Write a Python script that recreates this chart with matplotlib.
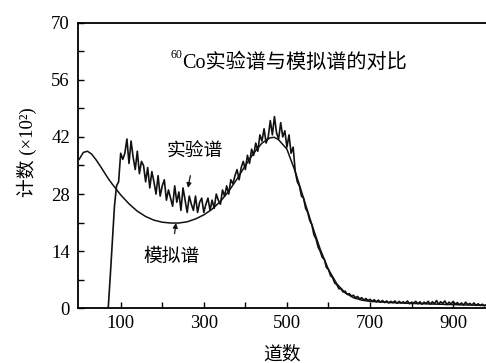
import numpy as np
import matplotlib
matplotlib.use("Agg")
import matplotlib.pyplot as plt
from matplotlib.ticker import MultipleLocator, FixedLocator

plt.rcParams['font.family'] = ['Liberation Serif', 'Noto Sans CJK SC']

# ---------------------------------------------------------------------------
# Data (counts in units of 10^2)
# ---------------------------------------------------------------------------
# experimental spectrum, every 5 channels from 70 to 980
exp_channels = np.arange(70, 985, 5)
exp_counts = [
    0, 8, 16.5, 25, 30, 31, 38, 36.5, 38, 41.5,
    35.5, 41, 37, 34, 38.5, 33, 36, 35, 31, 34.5,
    29.5, 33.5, 31, 28, 32.5, 27.5, 30, 31.5, 26.5, 29,
    27, 25, 30, 26, 28.5, 24, 29.5, 26.5, 23.5, 27.5,
    25.5, 24, 27.5, 23.5, 26, 27, 23.5, 25.5, 27, 24,
    26.5, 24.5, 28, 26.5, 25.5, 29, 27.5, 30, 28, 31.5,
    30.5, 32.5, 34, 31.5, 34.5, 36, 34, 37.5, 35.5, 39,
    37.5, 40.5, 38.5, 42.5, 41, 44, 40.5, 42, 46, 42.5,
    47, 43, 41.5, 45.5, 42, 43.5, 39.5, 42.5, 38, 39.5,
    33.5, 31, 30, 27.5, 27, 24.5, 23.5, 21.5, 20.5, 18,
    17, 15, 14, 12.5, 12, 10, 9.5, 8, 7.5, 6.2,
    5.8, 4.8, 4.8, 4.0, 4.2, 3.4, 3.6, 3.0, 3.2, 2.6,
    2.9, 2.3, 2.6, 2.0, 2.4, 1.9, 2.2, 1.7, 2.1, 1.6,
    2.0, 1.5, 1.9, 1.4, 1.8, 1.3, 1.7, 1.4, 1.8, 1.2,
    1.7, 1.3, 1.6, 1.2, 1.8, 1.1, 1.5, 1.3, 1.7, 1.1,
    1.6, 1.0, 1.5, 1.2, 1.7, 1.0, 1.6, 1.1, 1.9, 1.0,
    1.6, 1.2, 1.8, 0.9, 1.5, 1.1, 1.7, 1.0, 1.4, 0.9,
    1.3, 0.8, 1.5, 0.9, 1.2, 0.8, 1.3, 0.7, 1.1, 0.7,
    1.0, 0.6, 0.9,
]

# simulated spectrum (smooth)
sim_channels = [0, 10, 20, 30, 40, 50, 60, 70, 80, 90, 100, 120, 140, 160,
                180, 200, 220, 240, 260, 280, 300, 320, 340, 360, 380, 400,
                420, 440, 460, 470, 480, 500, 520, 540, 560, 580, 600, 620,
                640, 660, 680, 700, 750, 800, 900, 980]
sim_counts = [36.5, 38.2, 38.5, 37.8, 36.5, 35, 33.4, 31.8, 30.4, 29.1, 27.8,
              25.6, 23.8, 22.5, 21.6, 21.1, 20.9, 20.9, 21.2, 21.9, 22.9,
              24.3, 26.2, 28.7, 31.7, 35, 38, 40.5, 41.8, 41.9, 41.3, 39,
              33.5, 27, 20.5, 14.5, 9.5, 6, 3.8, 2.6, 2.0, 1.7, 1.4, 1.2,
              0.9, 0.7]

x_ticks = [100, 200, 300, 400, 500, 600, 700, 800, 900]
x_labels = ["100", "", "300", "", "500", "", "700", "", "900"]
y_ticks = [0, 14, 28, 42, 56, 70]

title_text = "Co实验谱与模拟谱的对比"
title_sup = "60"
exp_label = "实验谱"
sim_label = "模拟谱"


fig = plt.figure(figsize=(4.86, 3.63), dpi=100)
ax = fig.add_axes([0.1611, 0.1507, 1 - 0.1611, 0.9375 - 0.1507])

ax.plot(exp_channels, exp_counts, color="#111111", linewidth=1.2)
ax.plot(sim_channels, sim_counts, color="#111111", linewidth=1.1)

ax.set_xlim(-2, 979)
ax.set_ylim(0, 70)

ax.xaxis.set_major_locator(FixedLocator(x_ticks))
ax.set_xticklabels(x_labels)
ax.set_yticks(y_ticks)
ax.yaxis.set_minor_locator(MultipleLocator(7))
ax.tick_params(which="both", direction="in", length=4, width=1.0,
               labelsize=13.5, pad=6)
ax.tick_params(axis="x", pad=5)

for side in ("left", "bottom", "top"):
    ax.spines[side].set_linewidth(1.3)
ax.spines["right"].set_visible(False)

ax.set_xlabel("道数", fontsize=13.5, labelpad=10)
ax.set_ylabel("计数 (×10²)", fontsize=13.5)
ax.yaxis.set_label_coords(-0.102, 0.547)

# title inside the plot, with superscript mass number
ax.text(248, 60.0, title_text, fontsize=14.5, ha="left", va="center")
ax.text(248, 62.1, title_sup, fontsize=8.5, ha="right", va="center")

# labels with arrows
ax.annotate(exp_label, xy=(262, 29.5), xytext=(278, 38.3),
            fontsize=13.5, ha="center", va="center",
            arrowprops=dict(arrowstyle="-|>", color="#111111", lw=0.9,
                            mutation_scale=7, shrinkA=9, shrinkB=0))
ax.annotate(sim_label, xy=(233, 20.9), xytext=(222, 12.5),
            fontsize=13.5, ha="center", va="center",
            arrowprops=dict(arrowstyle="-|>", color="#111111", lw=0.9,
                            mutation_scale=7, shrinkA=9, shrinkB=0))

fig.savefig("out.png", dpi=100)
